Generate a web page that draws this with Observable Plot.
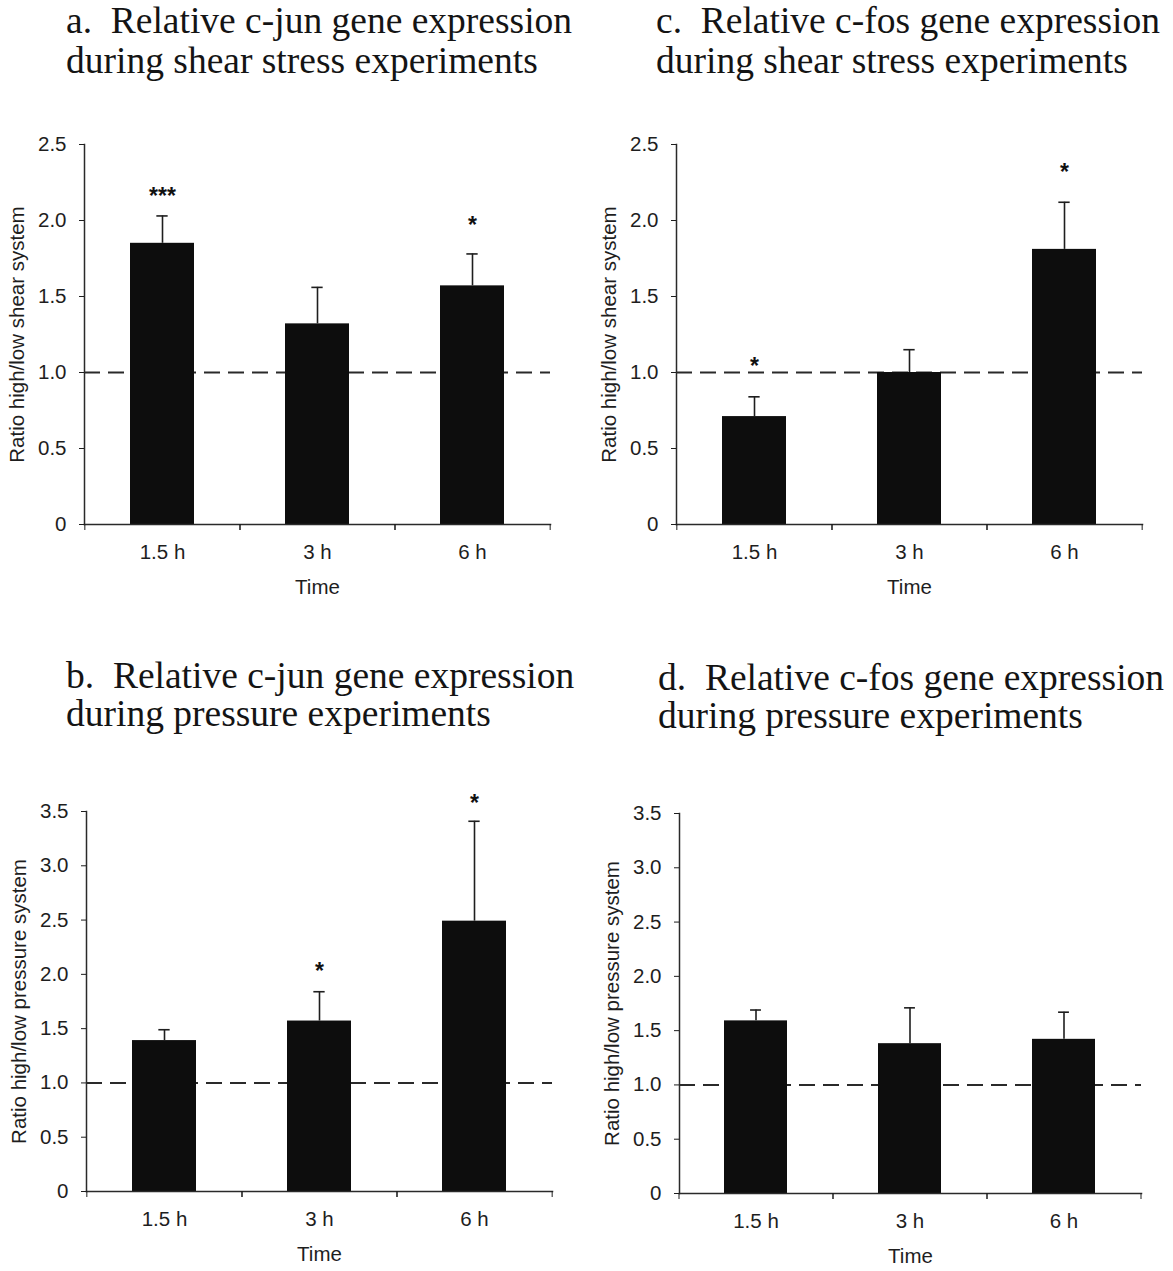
<!DOCTYPE html>
<html><head><meta charset="utf-8">
<script src="https://cdn.jsdelivr.net/npm/d3@7"></script>
<script src="https://cdn.jsdelivr.net/npm/@observablehq/plot@0.6"></script>
<style>
body{margin:0;background:#fff;width:1173px;height:1271px;position:relative;overflow:hidden}
.title{position:absolute;font-family:"Liberation Serif","Times New Roman",serif;font-size:37.5px;color:#141414;white-space:nowrap}
.chart{position:absolute}
</style></head><body>
<script>
// ---- data ----
const times = ["1.5 h", "3 h", "6 h"];
const shearTicks = [0, 0.5, 1.0, 1.5, 2.0, 2.5];
const pressureTicks = [0, 0.5, 1.0, 1.5, 2.0, 2.5, 3.0, 3.5];

// a. c-jun, shear stress
const junShearMean  = [1.85, 1.32, 1.57];
const junShearUpper = [2.03, 1.56, 1.78];
const junShearSig   = ["***", "", "*"];
const junShearSigY  = [2.19, null, 2.00];

// b. c-jun, pressure
const junPressMean  = [1.39, 1.57, 2.49];
const junPressUpper = [1.49, 1.84, 3.41];
const junPressSig   = ["", "*", "*"];
const junPressSigY  = [null, 2.07, 3.62];

// c. c-fos, shear stress
const fosShearMean  = [0.71, 1.00, 1.81];
const fosShearUpper = [0.84, 1.15, 2.12];
const fosShearSig   = ["*", "", "*"];
const fosShearSigY  = [1.07, null, 2.35];

// d. c-fos, pressure
const fosPressMean  = [1.59, 1.38, 1.42];
const fosPressUpper = [1.69, 1.71, 1.67];
const fosPressSig   = ["", "", ""];
const fosPressSigY  = [null, null, null];

const panels = [
  {title: ["a.\u00a0\u00a0Relative c-jun gene expression", "during shear stress experiments"],
   yLabel: "Ratio high/low shear system", ticks: shearTicks,
   mean: junShearMean, upper: junShearUpper, sig: junShearSig, sigY: junShearSigY,
   tLeft: 66, tTop: 1, lh: 40, left: 0, top: 100, width: 580, mt: 44, mb: 90},
  {title: ["c.\u00a0\u00a0Relative c-fos gene expression", "during shear stress experiments"],
   yLabel: "Ratio high/low shear system", ticks: shearTicks,
   mean: fosShearMean, upper: fosShearUpper, sig: fosShearSig, sigY: fosShearSigY,
   tLeft: 656, tTop: 1, lh: 40, left: 592, top: 100, width: 580, mt: 44, mb: 90},
  {title: ["b.\u00a0\u00a0Relative c-jun gene expression", "during pressure experiments"],
   yLabel: "Ratio high/low pressure system", ticks: pressureTicks,
   mean: junPressMean, upper: junPressUpper, sig: junPressSig, sigY: junPressSigY,
   tLeft: 66, tTop: 657, lh: 38, left: 2, top: 770, width: 580, mt: 41, mb: 80},
  {title: ["d.\u00a0\u00a0Relative c-fos gene expression", "during pressure experiments"],
   yLabel: "Ratio high/low pressure system", ticks: pressureTicks,
   mean: fosPressMean, upper: fosPressUpper, sig: fosPressSig, sigY: fosPressSigY,
   tLeft: 658, tTop: 659, lh: 38, left: 595, top: 772, width: 576, mt: 41, mb: 79}
];

const fmt = d => d === 0 ? "0" : d.toFixed(1);

for (const p of panels) {
  const t = document.createElement("div");
  t.className = "title";
  t.style.left = p.tLeft + "px";
  t.style.top = p.tTop + "px";
  t.style.lineHeight = p.lh + "px";
  t.innerHTML = p.title.join("<br>");
  document.body.appendChild(t);

  const data = times.map((time, i) => ({time, mean: p.mean[i], upper: p.upper[i], sig: p.sig[i], sigY: p.sigY[i]}));
  const mL = 84, mR = 30;
  const plotH = 380;
  const height = p.mt + plotH + p.mb;
  const step = (p.width - mL - mR) / times.length;
  const bandW = step * 0.41;
  const yMax = p.ticks[p.ticks.length - 1];

  const svg = Plot.plot({
    width: p.width, height,
    marginLeft: mL, marginRight: mR, marginTop: p.mt, marginBottom: p.mb,
    style: {fontFamily: "'Liberation Sans', Arial, Helvetica, sans-serif", fontSize: "20.5px", color: "#1e1e1e", background: "transparent", overflow: "visible"},
    x: {domain: times, paddingInner: 0.59, paddingOuter: 0.295},
    y: {domain: [0, yMax]},
    marks: [
      Plot.ruleY([1], {stroke: "#2a2a2a", strokeWidth: 2, strokeDasharray: "16,8"}),
      Plot.ruleX(data, {x: "time", y1: "mean", y2: "upper", stroke: "#1e1e1e", strokeWidth: 1.6}),
      Plot.tickY(data, {x: "time", y: "upper", stroke: "#1e1e1e", strokeWidth: 1.6, insetLeft: (bandW - 11) / 2, insetRight: (bandW - 11) / 2}),
      Plot.barY(data, {x: "time", y: "mean", fill: "#0d0d0d"}),
      Plot.text(data.filter(d => d.sig), {x: "time", y: "sigY", text: "sig", fontSize: 23, fontWeight: "bold", fill: "#111", dy: 5}),
      Plot.frame({anchor: "left", stroke: "#2a2a2a", strokeWidth: 1.5}),
      Plot.frame({anchor: "bottom", stroke: "#2a2a2a", strokeWidth: 1.5}),
      Plot.axisY({ticks: p.ticks, tickFormat: fmt, tickSize: 5, tickPadding: 13, fontSize: 20.5, label: p.yLabel, labelAnchor: "center", labelOffset: 75, labelArrow: "none"}),
      Plot.axisX({tickSize: 0, tickPadding: 20, fontSize: 20.5, label: "Time", labelAnchor: "center", labelOffset: 69, labelArrow: "none"}),
      Plot.axisX({tickSize: 6, tickFormat: () => "", dx: -step / 2, label: null}),
      Plot.axisX({tickSize: 6, tickFormat: () => "", dx: step / 2, label: null})
    ]
  });
  svg.classList.add("chart");
  svg.style.left = p.left + "px";
  svg.style.top = p.top + "px";
  svg.style.position = "absolute";
  document.body.appendChild(svg);
}
</script>
</body></html>
